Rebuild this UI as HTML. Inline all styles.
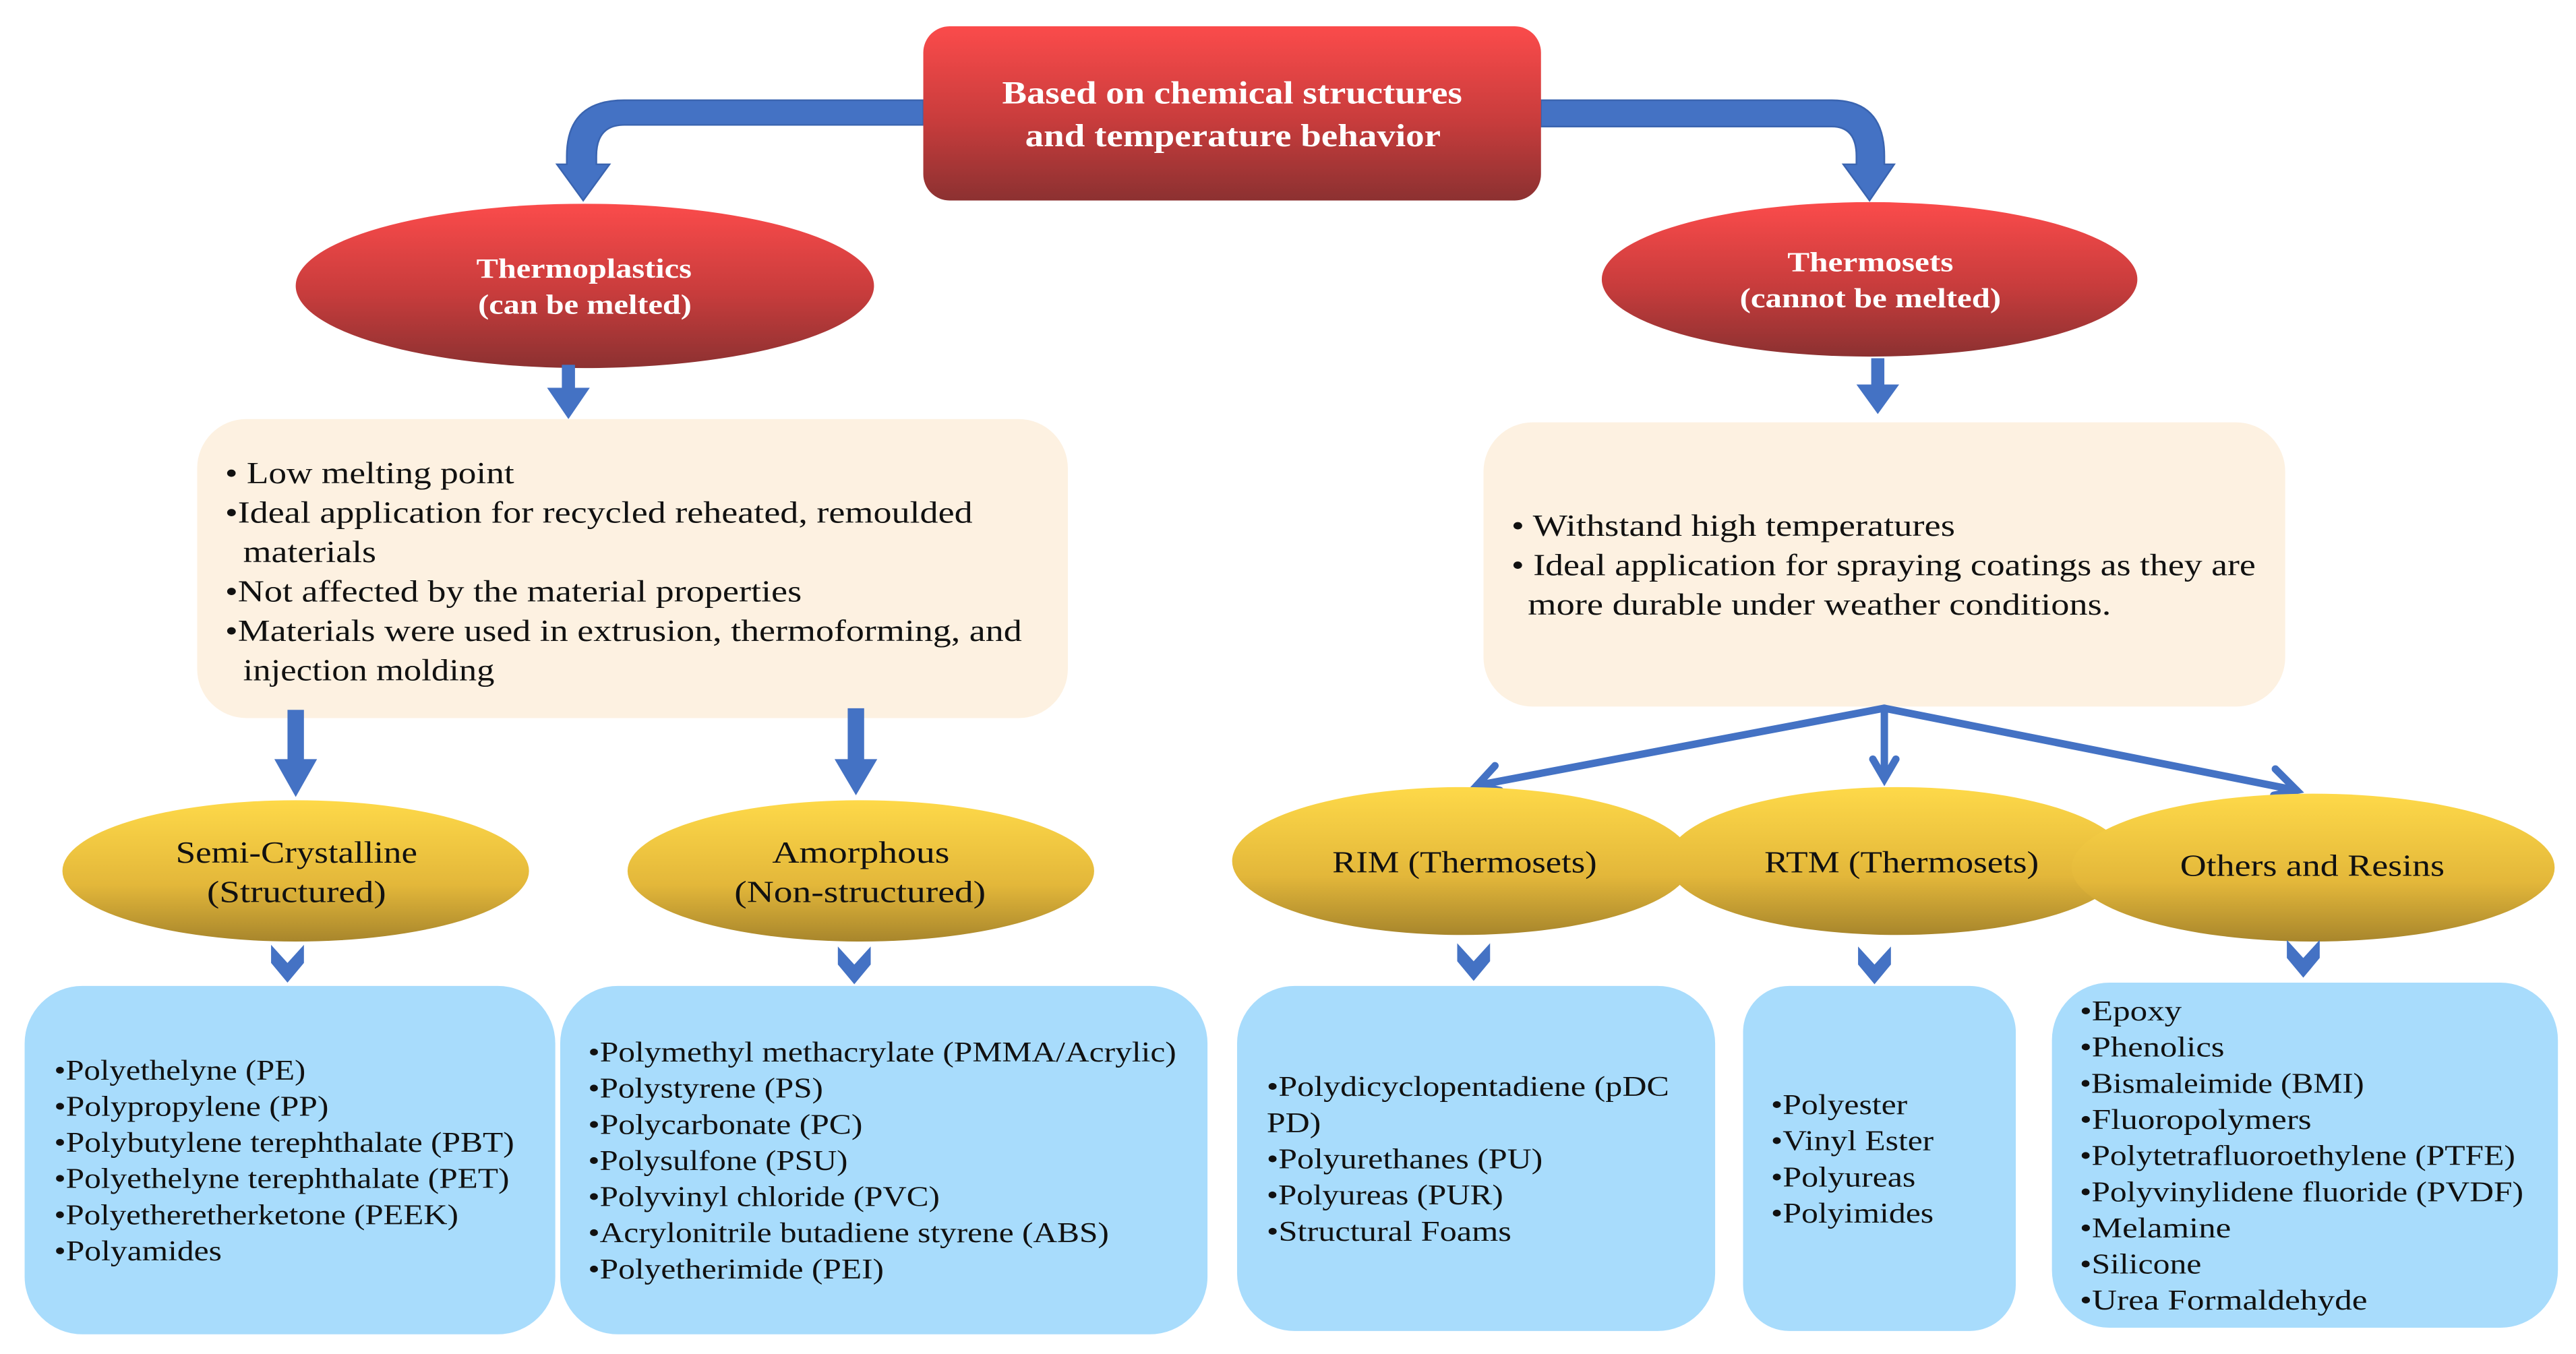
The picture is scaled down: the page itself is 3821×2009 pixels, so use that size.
<!DOCTYPE html>
<html><head><meta charset="utf-8"><style>
html,body{margin:0;padding:0;background:#fff;width:3821px;height:2009px;overflow:hidden}
svg{display:block}
text{font-family:"Liberation Serif",serif}
</style></head><body>
<svg width="3821" height="2009" viewBox="0 0 1568 824" preserveAspectRatio="none">
<defs>
<linearGradient id="red" x1="0" y1="0" x2="0" y2="1"><stop offset="0" stop-color="#fb4b4b"/><stop offset="0.55" stop-color="#c73c3c"/><stop offset="1" stop-color="#8c3131"/></linearGradient>
<linearGradient id="yel" x1="0" y1="0" x2="0" y2="1"><stop offset="0" stop-color="#fed949"/><stop offset="0.6" stop-color="#e3b73a"/><stop offset="1" stop-color="#a8862c"/></linearGradient>
</defs>
<path d="M562,61 L380,61 Q345,61 345,95 L345,100 L339,100 L355,122 L371,100 L363,100 L363,95 Q363,76 380,76 L562,76 Z" fill="#4472c4" stroke="#3a64b0" stroke-width="1"/>
<path d="M938,61 L1115,61 Q1147,61 1147,95 L1147,100 L1153,100 L1138,122 L1122,100 L1130,100 L1130,95 Q1130,77 1115,77 L938,77 Z" fill="#4472c4" stroke="#3a64b0" stroke-width="1"/>
<rect x="562" y="16" width="376" height="106" rx="16" fill="url(#red)"/>
<g fill="#fff" font-weight="bold" lengthAdjust="spacingAndGlyphs">
<text x="610" y="63" font-size="19.5" textLength="280" lengthAdjust="spacingAndGlyphs">Based on chemical structures</text>
<text x="624" y="89" font-size="19.5" textLength="253" lengthAdjust="spacingAndGlyphs">and temperature behavior</text>
</g>
<ellipse cx="356" cy="174" rx="176" ry="50" fill="url(#red)"/>
<text x="290" y="169" fill="#fff" font-weight="bold" font-size="17" textLength="131" lengthAdjust="spacingAndGlyphs">Thermoplastics</text>
<text x="291" y="191" fill="#fff" font-weight="bold" font-size="17" textLength="130" lengthAdjust="spacingAndGlyphs">(can be melted)</text>
<ellipse cx="1138" cy="170" rx="163" ry="47" fill="url(#red)"/>
<text x="1088" y="165" fill="#fff" font-weight="bold" font-size="17" textLength="101" lengthAdjust="spacingAndGlyphs">Thermosets</text>
<text x="1059" y="187" fill="#fff" font-weight="bold" font-size="17" textLength="159" lengthAdjust="spacingAndGlyphs">(cannot be melted)</text>
<polygon points="342,222 350,222 350,236 359,236 346,255 333,236 342,236" fill="#4472c4"/>
<polygon points="1139,218 1147,218 1147,234 1156,234 1143,252 1130,234 1139,234" fill="#4472c4"/>
<rect x="120" y="255" width="530" height="182" rx="30" fill="#fdf1e1"/>
<g font-size="18.5" fill="#111">
<text x="137" y="294" textLength="176" lengthAdjust="spacingAndGlyphs">• Low melting point</text>
<text x="137" y="318" textLength="455" lengthAdjust="spacingAndGlyphs">•Ideal application for recycled reheated, remoulded</text>
<text x="148" y="342" textLength="81" lengthAdjust="spacingAndGlyphs">materials</text>
<text x="137" y="366" textLength="351" lengthAdjust="spacingAndGlyphs">•Not affected by the material properties</text>
<text x="137" y="390" textLength="485" lengthAdjust="spacingAndGlyphs">•Materials were used in extrusion, thermoforming, and</text>
<text x="148" y="414" textLength="153" lengthAdjust="spacingAndGlyphs">injection molding</text>
</g>
<rect x="903" y="257" width="488" height="173" rx="30" fill="#fdf1e1"/>
<g font-size="18.5" fill="#111">
<text x="920" y="326" textLength="270" lengthAdjust="spacingAndGlyphs">• Withstand high temperatures</text>
<text x="920" y="350" textLength="453" lengthAdjust="spacingAndGlyphs">• Ideal application for spraying coatings as they are</text>
<text x="930" y="374" textLength="355" lengthAdjust="spacingAndGlyphs">more durable under weather conditions.</text>
</g>
<polygon points="175,432 185,432 185,462 193,462 180,485 167,462 175,462" fill="#4472c4"/>
<polygon points="516,431 526,431 526,462 534,462 521,484 508,462 516,462" fill="#4472c4"/>
<g stroke="#4472c4" stroke-width="4.5" fill="none" stroke-linecap="round">
<line x1="1147" y1="431" x2="899" y2="478"/>
<polyline points="910,466 899,478 913,481"/>
<line x1="1147" y1="431" x2="1147" y2="472"/>
<polyline points="1140,462 1147,474 1154,462"/>
<line x1="1147" y1="431" x2="1398" y2="481"/>
<polyline points="1385,468 1398,481 1384,484"/>
</g>
<ellipse cx="180" cy="530" rx="142" ry="43" fill="url(#yel)"/>
<ellipse cx="524" cy="530" rx="142" ry="43" fill="url(#yel)"/>
<ellipse cx="890" cy="524" rx="140" ry="45" fill="url(#yel)"/>
<ellipse cx="1155" cy="524" rx="140" ry="45" fill="url(#yel)"/>
<ellipse cx="1408" cy="528" rx="147" ry="45" fill="url(#yel)"/>
<g font-size="18.5" fill="#111">
<text x="107" y="525" textLength="147" lengthAdjust="spacingAndGlyphs">Semi-Crystalline</text>
<text x="126" y="549" textLength="109" lengthAdjust="spacingAndGlyphs">(Structured)</text>
<text x="470" y="525" textLength="108" lengthAdjust="spacingAndGlyphs">Amorphous</text>
<text x="447" y="549" textLength="153" lengthAdjust="spacingAndGlyphs">(Non-structured)</text>
<text x="811" y="531" textLength="161" lengthAdjust="spacingAndGlyphs">RIM (Thermosets)</text>
<text x="1074" y="531" textLength="167" lengthAdjust="spacingAndGlyphs">RTM (Thermosets)</text>
<text x="1327" y="533" textLength="161" lengthAdjust="spacingAndGlyphs">Others and Resins</text>
</g>
<g fill="#4472c4">
<polygon points="165,575 175,586 185,575 185,586 175,598 165,586"/>
<polygon points="510,576 520,587 530,576 530,587 520,599 510,587"/>
<polygon points="887,574 897,585 907,574 907,585 897,597 887,585"/>
<polygon points="1131,576 1141,587 1151,576 1151,587 1141,599 1131,587"/>
<polygon points="1392,572 1402,583 1412,572 1412,583 1402,595 1392,583"/>
</g>
<g fill="#a8dcfc">
<rect x="15" y="600" width="323" height="212" rx="35"/>
<rect x="341" y="600" width="394" height="212" rx="35"/>
<rect x="753" y="600" width="291" height="210" rx="35"/>
<rect x="1061" y="600" width="166" height="210" rx="28"/>
<rect x="1249" y="598" width="308" height="210" rx="35"/>
</g>
<g font-size="17.5" fill="#111">
<text x="33" y="657" textLength="153" lengthAdjust="spacingAndGlyphs">•Polyethelyne (PE)</text>
<text x="33" y="679" textLength="167" lengthAdjust="spacingAndGlyphs">•Polypropylene (PP)</text>
<text x="33" y="701" textLength="280" lengthAdjust="spacingAndGlyphs">•Polybutylene terephthalate (PBT)</text>
<text x="33" y="723" textLength="277" lengthAdjust="spacingAndGlyphs">•Polyethelyne terephthalate (PET)</text>
<text x="33" y="745" textLength="246" lengthAdjust="spacingAndGlyphs">•Polyetheretherketone (PEEK)</text>
<text x="33" y="767" textLength="102" lengthAdjust="spacingAndGlyphs">•Polyamides</text>

<text x="358" y="646" textLength="358" lengthAdjust="spacingAndGlyphs">•Polymethyl methacrylate (PMMA/Acrylic)</text>
<text x="358" y="668" textLength="143" lengthAdjust="spacingAndGlyphs">•Polystyrene (PS)</text>
<text x="358" y="690" textLength="167" lengthAdjust="spacingAndGlyphs">•Polycarbonate (PC)</text>
<text x="358" y="712" textLength="158" lengthAdjust="spacingAndGlyphs">•Polysulfone (PSU)</text>
<text x="358" y="734" textLength="214" lengthAdjust="spacingAndGlyphs">•Polyvinyl chloride (PVC)</text>
<text x="358" y="756" textLength="317" lengthAdjust="spacingAndGlyphs">•Acrylonitrile butadiene styrene (ABS)</text>
<text x="358" y="778" textLength="180" lengthAdjust="spacingAndGlyphs">•Polyetherimide (PEI)</text>

<text x="771" y="667" textLength="245" lengthAdjust="spacingAndGlyphs">•Polydicyclopentadiene (pDC</text>
<text x="771" y="689" textLength="33" lengthAdjust="spacingAndGlyphs">PD)</text>
<text x="771" y="711" textLength="168" lengthAdjust="spacingAndGlyphs">•Polyurethanes (PU)</text>
<text x="771" y="733" textLength="144" lengthAdjust="spacingAndGlyphs">•Polyureas (PUR)</text>
<text x="771" y="755" textLength="149" lengthAdjust="spacingAndGlyphs">•Structural Foams</text>

<text x="1078" y="678" textLength="83" lengthAdjust="spacingAndGlyphs">•Polyester</text>
<text x="1078" y="700" textLength="99" lengthAdjust="spacingAndGlyphs">•Vinyl Ester</text>
<text x="1078" y="722" textLength="88" lengthAdjust="spacingAndGlyphs">•Polyureas</text>
<text x="1078" y="744" textLength="99" lengthAdjust="spacingAndGlyphs">•Polyimides</text>

<text x="1266" y="621" textLength="62" lengthAdjust="spacingAndGlyphs">•Epoxy</text>
<text x="1266" y="643" textLength="88" lengthAdjust="spacingAndGlyphs">•Phenolics</text>
<text x="1266" y="665" textLength="173" lengthAdjust="spacingAndGlyphs">•Bismaleimide (BMI)</text>
<text x="1266" y="687" textLength="141" lengthAdjust="spacingAndGlyphs">•Fluoropolymers</text>
<text x="1266" y="709" textLength="265" lengthAdjust="spacingAndGlyphs">•Polytetrafluoroethylene (PTFE)</text>
<text x="1266" y="731" textLength="270" lengthAdjust="spacingAndGlyphs">•Polyvinylidene fluoride (PVDF)</text>
<text x="1266" y="753" textLength="92" lengthAdjust="spacingAndGlyphs">•Melamine</text>
<text x="1266" y="775" textLength="74" lengthAdjust="spacingAndGlyphs">•Silicone</text>
<text x="1266" y="797" textLength="175" lengthAdjust="spacingAndGlyphs">•Urea Formaldehyde</text>
</g>
</svg>
</body></html>
